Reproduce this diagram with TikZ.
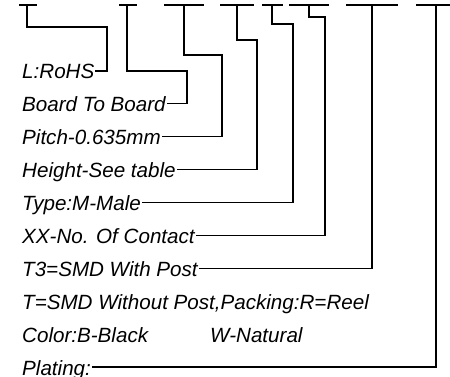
\documentclass[tikz,border=0pt]{standalone}
\usepackage{fontspec}
\setmainfont{Liberation Sans}
\begin{document}
\begin{tikzpicture}[x=1pt,y=-1pt,
  lbl/.style={anchor=base west,inner xsep=1.5pt,inner ysep=0pt,font=\fontsize{20.6}{22}\selectfont\itshape},
  wire/.style={line width=1.2pt,line cap=rect,line join=miter}]
\useasboundingbox (0,0) rectangle (450,377);
% labels
\node[lbl] (l1) at (20.5,79) {L:RoHS};
\node[lbl] (l2) at (20.5,111.9) {Board To Board};
\node[lbl] (l3) at (20.5,144.8) {Pitch-0.635mm};
\node[lbl] (l4) at (20.5,177.7) {Height-See table};
\node[lbl] (l5) at (20.5,210.6) {Type:M-Male};
\node[lbl] (l6) at (20.5,243.5) {XX-No. Of Contact};
\node[lbl] (l7) at (20.5,276.4) {T3=SMD With Post};
\node[lbl] (l8) at (20.5,309.3) {T=SMD Without Post,Packing:R=Reel};
\node[lbl] (l9) at (20.5,342.2) {Color:B-Black};
\node[lbl] (l9b) at (208.5,342.2) {W-Natural};
\node[lbl] (l10) at (20.5,375) {Plating:};
% bar tops
\coordinate (t1) at (27,5);  \coordinate (c1) at (107,27);
\coordinate (t2) at (127,5); \coordinate (c2) at (187,71);
\coordinate (t3) at (184,5); \coordinate (c3) at (222,55);
\coordinate (t4) at (237,5); \coordinate (c4) at (257,40);
\coordinate (t5) at (272,5); \coordinate (c5) at (293,24);
\coordinate (t6) at (309,5); \coordinate (c6) at (325,17);
\coordinate (t7) at (372,5);
\coordinate (t8) at (436,5);
% bars
\draw[wire] (20,5) -- (36,5);
\draw[wire] (120,5) -- (136,5);
\draw[wire] (165,5) -- (203,5);
\draw[wire] (221,5) -- (253,5);
\draw[wire] (263,5) -- (282,5);
\draw[wire] (290,5) -- (328,5);
\draw[wire] (347,5) -- (397,5);
\draw[wire] (417,5) -- (456,5);
% leaders
\draw[wire] (t1) |- (c1) |- ([yshift=8pt]l1.base east);
\draw[wire] (t2) |- (c2) |- ([yshift=8pt]l2.base east);
\draw[wire] (t3) |- (c3) |- ([yshift=8pt]l3.base east);
\draw[wire] (t4) |- (c4) |- ([yshift=8pt]l4.base east);
\draw[wire] (t5) |- (c5) |- ([yshift=8pt]l5.base east);
\draw[wire] (t6) |- (c6) |- ([yshift=8pt]l6.base east);
\draw[wire] (t7) |- ([yshift=8pt]l7.base east);
\draw[wire] (t8) |- ([yshift=8pt]l10.base east);
\end{tikzpicture}
\end{document}
